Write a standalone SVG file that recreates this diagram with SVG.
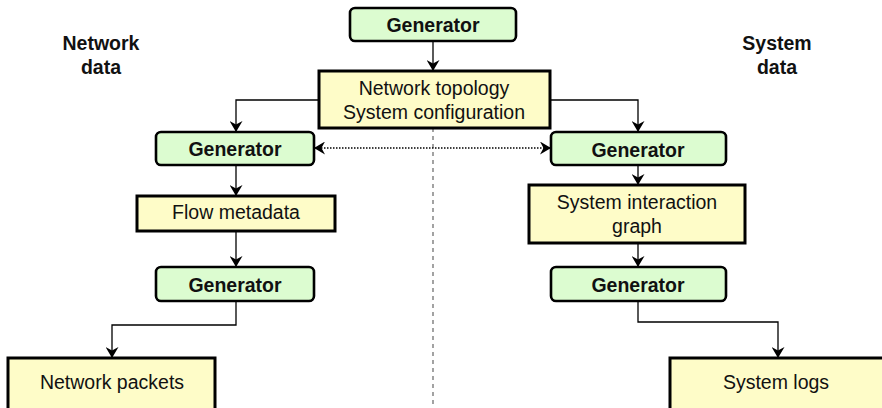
<svg xmlns="http://www.w3.org/2000/svg" width="882" height="408" viewBox="0 0 882 408">
  <style>
    .gen { fill: #dcfcd0; stroke: #000; stroke-width: 2.6; }
    .data { fill: #fefcc8; stroke: #000; stroke-width: 3; }
    .lbl { font-family: "Liberation Sans", Arial, sans-serif; font-size: 19.5px; fill: #111; text-anchor: middle; }
    .bold { font-weight: bold; }
    .wire { fill: none; stroke: #000; stroke-width: 1.3; }
  </style>
  <defs>
    <marker id="arrow" viewBox="0 0 11 13" refX="10" refY="6.5" markerWidth="11" markerHeight="13" markerUnits="userSpaceOnUse" orient="auto-start-reverse">
      <path d="M0,0 L11,6.5 L0,13 L3.5,6.5 Z" fill="#000"/>
    </marker>
  </defs>

  <!-- side headings -->
  <text class="lbl bold" x="101" y="50">Network</text>
  <text class="lbl bold" x="101" y="74">data</text>
  <text class="lbl bold" x="777" y="50">System</text>
  <text class="lbl bold" x="777" y="74">data</text>

  <!-- connectors -->
  <g id="connectors">
    <line x1="433" y1="128" x2="433" y2="408" stroke="#666" stroke-width="1.2" stroke-dasharray="4,4"/>
    <path class="wire" d="M433,41 V70" marker-end="url(#arrow)"/>
    <path class="wire" d="M318,100 H236 V131" marker-end="url(#arrow)"/>
    <path class="wire" d="M551,100 H638 V131" marker-end="url(#arrow)"/>
    <path class="wire" d="M315,148 H550" stroke-dasharray="1.5,1.5" marker-start="url(#arrow)" marker-end="url(#arrow)"/>
    <path class="wire" d="M236,165 V195" marker-end="url(#arrow)"/>
    <path class="wire" d="M236,231 V266" marker-end="url(#arrow)"/>
    <path class="wire" d="M236,301 V325 H112 V357" marker-end="url(#arrow)"/>
    <path class="wire" d="M638,165 V184" marker-end="url(#arrow)"/>
    <path class="wire" d="M638,243 V266" marker-end="url(#arrow)"/>
    <path class="wire" d="M638,301 V322 H778 V357" marker-end="url(#arrow)"/>
  </g>

  <g id="gen-top">
    <rect class="gen" x="350" y="8" width="166" height="33" rx="5"/>
    <text class="lbl bold" x="433" y="31.5">Generator</text>
  </g>

  <g id="topology">
    <rect class="data" x="319" y="71" width="231" height="57"/>
    <text class="lbl" x="434" y="95">Network topology</text>
    <text class="lbl" x="434" y="119">System configuration</text>
  </g>

  <g id="gen-net-1">
    <rect class="gen" x="156" y="132" width="158" height="33" rx="5"/>
    <text class="lbl bold" x="235" y="156">Generator</text>
  </g>

  <g id="flow-metadata">
    <rect class="data" x="137" y="196" width="198" height="35"/>
    <text class="lbl" x="236" y="218.5">Flow metadata</text>
  </g>

  <g id="gen-net-2">
    <rect class="gen" x="156" y="267" width="158" height="34" rx="5"/>
    <text class="lbl bold" x="235" y="291.5">Generator</text>
  </g>

  <g id="network-packets">
    <rect class="data" x="8" y="358" width="207" height="56"/>
    <text class="lbl" x="112" y="389">Network packets</text>
  </g>

  <g id="gen-sys-1">
    <rect class="gen" x="551" y="132" width="175" height="33" rx="5"/>
    <text class="lbl bold" x="638" y="156.5">Generator</text>
  </g>

  <g id="interaction-graph">
    <rect class="data" x="529" y="185" width="216" height="58"/>
    <text class="lbl" x="637" y="208.5">System interaction</text>
    <text class="lbl" x="637" y="232.5">graph</text>
  </g>

  <g id="gen-sys-2">
    <rect class="gen" x="551" y="267" width="175" height="34" rx="5"/>
    <text class="lbl bold" x="638" y="291.5">Generator</text>
  </g>

  <g id="system-logs">
    <rect class="data" x="670" y="358" width="220" height="56"/>
    <text class="lbl" x="776" y="389">System logs</text>
  </g>
</svg>
